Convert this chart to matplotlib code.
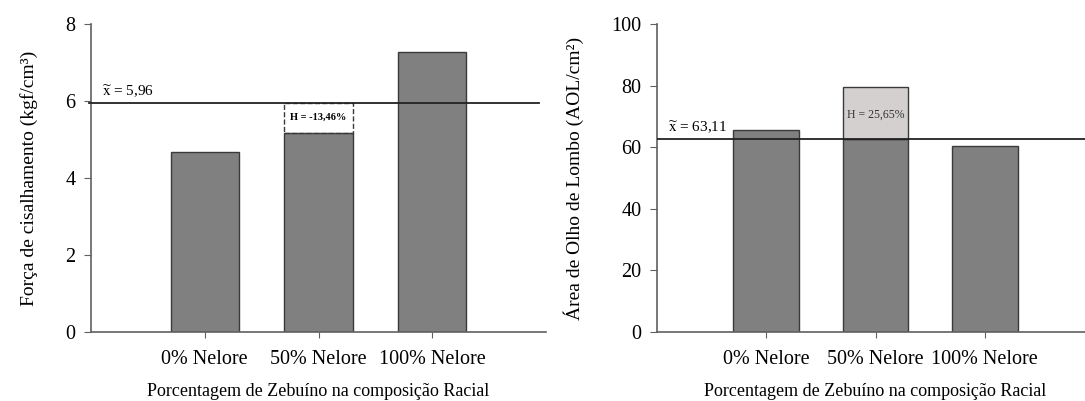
import matplotlib.pyplot as plt

plt.rcParams['font.family'] = ['Liberation Serif', 'DejaVu Serif']
plt.rcParams['mathtext.fontset'] = 'stix'

# Dados
grupos = ['0% Nelore', '50% Nelore', '100% Nelore']
forca = [4.68, 5.17, 7.27]          # Força de cisalhamento (kgf/cm³)
aol = [65.6, 79.5, 60.4]            # Área de olho de lombo
media_forca = 5.95
media_aol = 62.6
rotulo_media_forca = '5,96'
rotulo_media_aol = '63,11'
heterose_forca = 'H = -13,46%'
heterose_aol = 'H = 25,65%'

cor_barra = '#808080'
cor_borda = '#3a3a3a'
cor_clara = '#d4d0d0'
cor_eixo = '#606060'

fig = plt.figure(figsize=(10.85, 4.01), dpi=100)
ax1 = fig.add_axes([91 / 1085, 69 / 401, 455 / 1085, 308 / 401])
ax2 = fig.add_axes([657 / 1085, 69 / 401, 437 / 1085, 308 / 401])

x = range(len(grupos))


def estilo(ax, ymax, passo):
    ax.set_xlim(-1, 3)
    ax.set_ylim(0, ymax)
    ax.set_yticks(range(0, ymax + 1, passo))
    ax.set_xticks(list(x))
    ax.set_xticklabels(grupos, fontsize=14.5)
    ax.tick_params(axis='y', labelsize=14.5, length=5, color=cor_eixo, pad=6)
    ax.tick_params(axis='x', length=4, color=cor_eixo, pad=9)
    for s in ['top', 'right']:
        ax.spines[s].set_visible(False)
    for s in ['left', 'bottom']:
        ax.spines[s].set_color(cor_eixo)
        ax.spines[s].set_linewidth(1.2)
    ax.set_xlabel('Porcentagem de Zebuíno na composição Racial', fontsize=13, labelpad=10)


# Gráfico da esquerda
ax1.bar(x, forca, width=0.6, color=cor_barra, edgecolor=cor_borda, linewidth=1, zorder=2)
ax1.bar(1, media_forca - forca[1], bottom=forca[1], width=0.6, facecolor='none',
        edgecolor=cor_borda, linestyle='--', linewidth=1, zorder=2)
ax1.axhline(media_forca, color='#222222', linewidth=1.3, xmin=-0.005, xmax=(2.94 + 1) / 4,
            zorder=3, clip_on=False)
ax1.text(-0.9, media_forca + 0.08, r'$\widetilde{\mathrm{x}}$ = ' + rotulo_media_forca,
         fontsize=11, va='bottom', ha='left')
ax1.text(1, (media_forca + forca[1]) / 2 + 0.02, heterose_forca, fontsize=7.5,
         fontweight='bold', ha='center', va='center')
estilo(ax1, 8, 2)
ax1.set_ylabel('Força de cisalhamento (kgf/cm³)', fontsize=14, labelpad=20)

# Gráfico da direita
ax2.bar(x, [min(v, media_aol) if i == 1 else v for i, v in enumerate(aol)], width=0.6,
        color=cor_barra, edgecolor=cor_borda, linewidth=1, zorder=2)
ax2.bar(1, aol[1] - media_aol, bottom=media_aol, width=0.6, color=cor_clara,
        edgecolor=cor_borda, linewidth=1, zorder=2)
ax2.axhline(media_aol, color='#222222', linewidth=1.3, zorder=3)
ax2.text(-0.9, media_aol + 1, r'$\widetilde{\mathrm{x}}$ = ' + rotulo_media_aol,
         fontsize=11, va='bottom', ha='left')
ax2.text(1, 70.5, heterose_aol, fontsize=8.5, ha='center', va='center', color='#333333')
estilo(ax2, 100, 20)
ax2.set_ylabel('Área de Olho de Lombo (AOL/cm²)', fontsize=14, labelpad=20)

plt.savefig('out.png', dpi=100)
